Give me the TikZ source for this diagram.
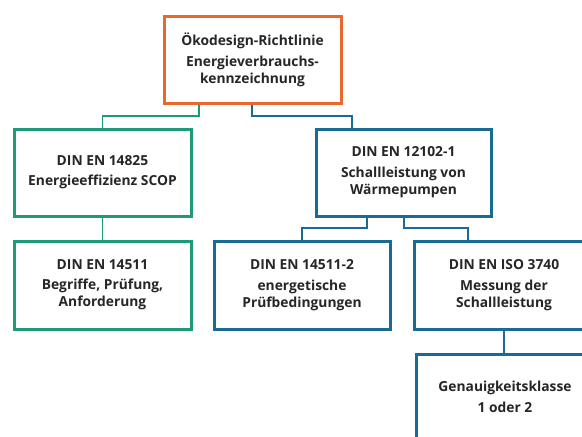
\documentclass[tikz,border=0pt]{standalone}
\usepackage{fontspec}
\setmainfont{Open Sans}
\definecolor{cOrange}{HTML}{E8692B}
\definecolor{cGreen}{HTML}{1E9A78}
\definecolor{cBlue}{HTML}{1A6A96}
\tikzset{
  box/.style={draw=#1, line width=3pt, fill=white, align=center, inner sep=0pt,
    font=\bfseries\fontsize{13.8}{17}\selectfont, text=black!85},
  conn/.style={draw=#1, line width=1.6pt},
}
\begin{document}
\begin{tikzpicture}[x=1pt,y=-1pt]
\useasboundingbox (0,0) rectangle (582,437);
\clip (0,0) rectangle (582,437);
\fill[white] (0,0) rectangle (582,437);
% boxes
\node[box=cOrange, minimum width=177pt, minimum height=87pt] (oeko) at (252.5,59.5)
  {Ökodesign-Richtlinie\\[4pt]Energieverbrauchs-\\kennzeichnung};
\node[box=cGreen, minimum width=177pt, minimum height=87pt] (scop) at (102.5,172.5)
  {DIN EN 14825\\[3pt]Energieeffizienz SCOP};
\node[box=cBlue, minimum width=175pt, minimum height=87pt] (schall) at (403.5,172.5)
  {DIN EN 12102-1\\[4pt]Schallleistung von\\Wärmepumpen};
\node[box=cGreen, minimum width=177pt, minimum height=88pt] (begr) at (102.5,285)
  {DIN EN 14511\\[3pt]Begriffe, Prüfung,\\Anforderung};
\node[box=cBlue, minimum width=176pt, minimum height=88pt] (energ) at (302,285)
  {DIN EN 14511-2\\[4pt]energetische\\Prüfbedingungen};
\node[box=cBlue, minimum width=180pt, minimum height=88pt] (iso) at (504,285)
  {DIN EN ISO 3740\\[4pt]Messung der\\Schallleistung};
\node[box=cBlue, minimum width=178pt, minimum height=120pt] (gen) at (505,414)
  {Genauigkeitsklasse\\[4pt]1 oder 2\\[12pt]\strut};
% connectors
\coordinate (o1) at (199,116);
\draw[conn=cGreen] (oeko.south -| 199,0) -- (o1) -| (scop.north);
\draw[conn=cBlue] (oeko.south -| 252,0) |- (352,116) -- (schall.north -| 352,0);
\draw[conn=cGreen] (scop.south) -- (begr.north);
\draw[conn=cBlue] (schall.south -| 367,0) |- (302,228) -- (energ.north);
\draw[conn=cBlue] (schall.south -| 404,0) |- (468,228) -- (iso.north -| 468,0);
\draw[conn=cBlue] (iso.south) -- (gen.north -| iso.south);
\end{tikzpicture}
\end{document}
